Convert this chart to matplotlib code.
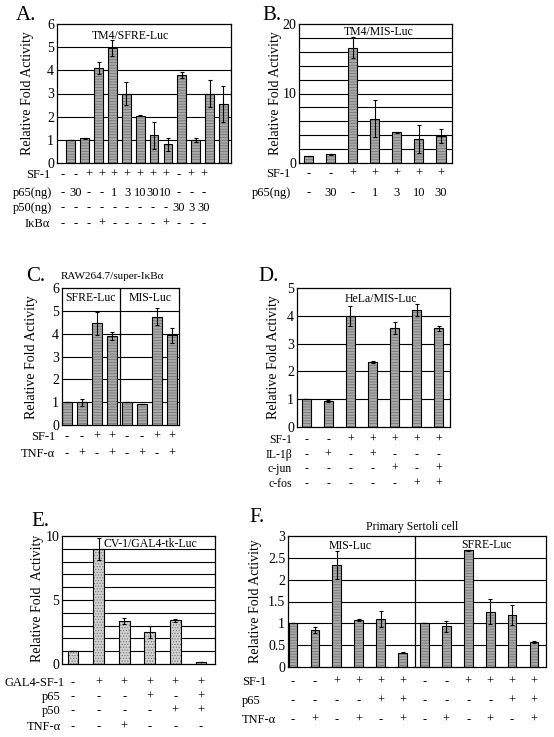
import matplotlib
matplotlib.use("Agg")
import matplotlib.pyplot as plt
import matplotlib.transforms as mtransforms
import numpy as np

plt.rcParams['font.family'] = ['Liberation Serif', 'DejaVu Serif']
plt.rcParams['hatch.linewidth'] = 0.5

W, H = 554, 737

# ---------------- data ----------------
A_values = [1.0, 1.07, 4.1, 4.95, 3.0, 2.05, 1.2, 0.8, 3.78, 1.0, 3.0, 2.55]
A_errors = [0, 0.02, 0.25, 0.35, 0.48, 0.03, 0.58, 0.27, 0.13, 0.08, 0.6, 0.78]
A_sf1 = ['-', '-', '+', '+', '+', '+', '+', '+', '+', '-', '+', '+']
A_p65 = ['-', '30', '-', '-', '1', '3', '10', '30', '10', '-', '-', '-']
A_p50 = ['-', '-', '-', '-', '-', '-', '-', '-', '-', '30', '3', '30']
A_ikb = ['-', '-', '-', '+', '-', '-', '-', '-', '+', '-', '-', '-']

B_values = [1.0, 1.25, 16.6, 6.4, 4.4, 3.45, 3.9]
B_errors = [0, 0.05, 1.5, 2.6, 0.1, 2.0, 1.0]
B_sf1 = ['-', '-', '+', '+', '+', '+', '+']
B_p65 = ['-', '30', '-', '1', '3', '10', '30']

C_values = [1.0, 1.0, 4.45, 3.9, 1.0, 0.92, 4.75, 3.92]
C_errors = [0, 0.15, 0.5, 0.18, 0, 0, 0.38, 0.35]
C_sf1 = ['-', '-', '+', '+', '-', '-', '+', '+']
C_tnf = ['-', '+', '-', '+', '-', '+', '-', '+']

D_values = [1.0, 0.93, 4.0, 2.33, 3.55, 4.22, 3.55]
D_errors = [0, 0.03, 0.37, 0.03, 0.22, 0.22, 0.08]
D_sf1 = ['-', '-', '+', '+', '+', '+', '+']
D_il1 = ['-', '+', '-', '+', '-', '-', '-']
D_jun = ['-', '-', '-', '-', '+', '-', '+']
D_fos = ['-', '-', '-', '-', '-', '+', '+']

E_values = [1.0, 9.0, 3.36, 2.5, 3.4, 0.18]
E_errors = [0, 0.85, 0.22, 0.45, 0.08, 0]
E_gal = ['-', '+', '+', '+', '+', '+']
E_p65 = ['-', '-', '-', '+', '-', '+']
E_p50 = ['-', '-', '-', '-', '+', '+']
E_tnf = ['-', '-', '+', '-', '-', '-']

F_values = [1.0, 0.85, 2.34, 1.08, 1.1, 0.33, 1.0, 0.93, 2.67, 1.27, 1.2, 0.58]
F_errors = [0, 0.06, 0.32, 0.02, 0.18, 0.02, 0, 0.12, 0.02, 0.28, 0.23, 0.02]
F_sf1 = ['-', '-', '+', '+', '+', '+', '-', '-', '+', '+', '+', '+']
F_p65 = ['-', '-', '-', '-', '+', '+', '-', '-', '-', '-', '+', '+']
F_tnf = ['-', '+', '-', '+', '-', '+', '-', '+', '-', '+', '-', '+']

YLABEL = 'Relative Fold Activity'

fig = plt.figure(figsize=(W / 100, H / 100), dpi=100)


def fx(x):
    return x / W


def fy(y):
    return 1 - y / H


def make_axes(l, t, r, b):
    return fig.add_axes([fx(l), fy(b), (r - l) / W, (b - t) / H])


def draw_bars(ax, values, errors, width, xlim, ylim, major, grid_step,
              face='#a9a9a9', hatch='------', tick_fmt=None):
    x = np.arange(len(values))
    ax.set_xlim(*xlim)
    ax.set_ylim(*ylim)
    ax.set_yticks(major)
    if tick_fmt:
        ax.set_yticklabels([tick_fmt(v) for v in major])
    for g in np.arange(ylim[0] + grid_step, ylim[1] - 1e-9, grid_step):
        ax.axhline(g, color='black', lw=0.8, zorder=1)
    ax.set_xticks([])
    ax.tick_params(axis='y', which='both', length=0, pad=2, labelsize=10)
    for s in ax.spines.values():
        s.set_linewidth(0.9)
    ax.bar(x, values, width=width, color=face, edgecolor='#6e6e6e',
           hatch=hatch, linewidth=0, zorder=2)
    ax.bar(x, values, width=width, fill=False, edgecolor='black',
           linewidth=0.8, zorder=3)
    ax.errorbar(x, values, yerr=errors, fmt='none', ecolor='black',
                elinewidth=0.8, capsize=1.5, capthick=0.8, zorder=4)
    return x


def row(ax, xs, y_px, items, label, label_x, ha='right', fs=9, xs_axes=False):
    if xs_axes:
        tr = mtransforms.blended_transform_factory(ax.transAxes, fig.transFigure)
    else:
        tr = mtransforms.blended_transform_factory(ax.transData, fig.transFigure)
    for xv, it in zip(xs, items):
        ax.text(xv, fy(y_px), it, transform=tr, ha='center', va='center',
                fontsize=fs, clip_on=False)
    fig.text(fx(label_x), fy(y_px), label, ha=ha, va='center', fontsize=fs)


def letter(x, y, s):
    fig.text(fx(x), fy(y), s, ha='left', va='center', fontsize=15)


def ylab(x, y, s, fs=10):
    fig.text(fx(x), fy(y), s, rotation=90, ha='center', va='center', fontsize=fs)


# ---------------- Panel A ----------------
axA = make_axes(57, 24, 231, 163)
xA = draw_bars(axA, A_values, A_errors, 0.63, (-1.0, 11.55), (0, 6),
               np.arange(0, 7, 1), 1)
axA.text(0.42, 0.915, 'TM4/SFRE-Luc', transform=axA.transAxes,
         ha='center', va='center', fontsize=8.5)
letter(16, 15, 'A.')
ylab(28, 93, YLABEL)
posA = np.linspace((63 - 57) / 174, (204 - 57) / 174, len(A_values))
row(axA, posA, 175, A_sf1, 'SF-1', 50, xs_axes=True)
row(axA, posA, 193, A_p65, 'p65(ng)', 52, xs_axes=True)
row(axA, posA, 208, A_p50, 'p50(ng)', 52, xs_axes=True)
row(axA, posA, 224, A_ikb, 'IκBα', 50, xs_axes=True)

# ---------------- Panel B ----------------
axB = make_axes(299, 24, 452, 163)
xB = draw_bars(axB, B_values, B_errors, 0.41, (-0.45, 6.5), (0, 20),
               [0, 10, 20], 2)
axB.text(0.52, 0.94, 'TM4/MIS-Luc', transform=axB.transAxes,
         ha='center', va='center', fontsize=8.5)
letter(262, 15, 'B.')
ylab(275, 93, YLABEL)
row(axB, xB, 174, B_sf1, 'SF-1', 290)
row(axB, xB, 193, B_p65, 'p65(ng)', 291)

# ---------------- Panel C ----------------
axC = make_axes(62, 288, 179, 425)
xC = draw_bars(axC, C_values, C_errors, 0.67, (-0.33, 7.47), (0, 6),
               np.arange(0, 7, 1), 1)
axC.axvline(3.53, color='black', lw=0.9, zorder=3)
axC.text(0.24, 0.925, 'SFRE-Luc', transform=axC.transAxes,
         ha='center', va='center', fontsize=8.5)
axC.text(0.755, 0.925, 'MIS-Luc', transform=axC.transAxes,
         ha='center', va='center', fontsize=8.5)
fig.text(fx(112), fy(276), 'RAW264.7/super-IκBα', ha='center', va='center',
         fontsize=8)
letter(26, 277, 'C.')
ylab(31, 357, YLABEL)
row(axC, xC, 437, C_sf1, 'SF-1', 55)
row(axC, xC, 454, C_tnf, 'TNF-α', 55)

# ---------------- Panel D ----------------
axD = make_axes(297, 288, 450, 427)
xD = draw_bars(axD, D_values, D_errors, 0.41, (-0.41, 6.5), (0, 5),
               np.arange(0, 6, 1), 1)
axD.text(0.55, 0.92, 'HeLa/MIS-Luc', transform=axD.transAxes,
         ha='center', va='center', fontsize=8.5)
letter(258, 277, 'D.')
ylab(273, 357, YLABEL)
row(axD, xD, 440, D_sf1, 'SF-1', 292, fs=8.5)
row(axD, xD, 455, D_il1, 'IL-1β', 292, fs=8.5)
row(axD, xD, 469, D_jun, 'c-jun', 292, fs=8.5)
row(axD, xD, 484, D_fos, 'c-fos', 292, fs=8.5)

# ---------------- Panel E ----------------
axE = make_axes(62, 536, 215, 664)
xE = draw_bars(axE, E_values, E_errors, 0.42, (-0.43, 5.55), (0, 10),
               [0, 5, 10], 1, face='#d2d2d2', hatch='......')
axE.text(0.27, 0.935, 'CV-1/GAL4-tk-Luc', transform=axE.transAxes,
         ha='left', va='center', fontsize=8.5)
letter(31, 522, 'E.')
ylab(37, 598, 'Relative Fold  Activity')
row(axE, xE, 683, E_gal, 'GAL4-SF-1', 65)
row(axE, xE, 697, E_p65, 'p65', 61)
row(axE, xE, 711, E_p50, 'p50', 61)
row(axE, xE, 727, E_tnf, 'TNF-α', 61)

# ---------------- Panel F ----------------
axF = make_axes(288, 536, 546, 667)
xF = draw_bars(axF, F_values, F_errors, 0.4, (-0.23, 11.55), (0, 3),
               np.arange(0, 3.01, 0.5), 0.5,
               tick_fmt=lambda v: f'{v:g}')
axF.axvline(5.55, color='black', lw=0.9, zorder=3)
axF.text(0.24, 0.92, 'MIS-Luc', transform=axF.transAxes,
         ha='center', va='center', fontsize=8.5)
axF.text(0.77, 0.935, 'SFRE-Luc', transform=axF.transAxes,
         ha='center', va='center', fontsize=8.5)
fig.text(fx(412), fy(527), 'Primary Sertoli cell', ha='center', va='center',
         fontsize=8.5)
letter(249, 518, 'F.')
ylab(255, 601, YLABEL)
row(axF, xF, 682, F_sf1, 'SF-1', 242, ha='left')
row(axF, xF, 701, F_p65, 'p65', 242, ha='left')
row(axF, xF, 720, F_tnf, 'TNF-α', 242, ha='left')

fig.savefig('out.png', dpi=100)
